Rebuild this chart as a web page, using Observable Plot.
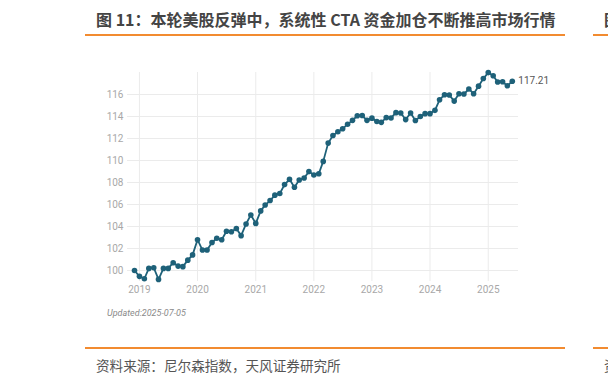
<!DOCTYPE html>
<html><head><meta charset="utf-8">
<script src="https://cdn.jsdelivr.net/npm/d3@7"></script>
<script src="https://cdn.jsdelivr.net/npm/@observablehq/plot@0.6"></script>
<style>
html,body{margin:0;padding:0;background:#fff;}
#wrap{position:relative;width:608px;height:384px;overflow:hidden;font-family:"Noto Sans CJK SC","Noto Sans",sans-serif;}
#chart{position:absolute;left:0;top:0;}
.title{position:absolute;top:8px;font-size:16px;font-weight:bold;color:#444;white-space:nowrap;line-height:22px;}
.rule{position:absolute;height:2px;background:#f28b30;}
.src{position:absolute;top:356px;font-size:13.6px;color:#555;white-space:nowrap;line-height:18px;}
.upd{position:absolute;left:107px;top:307px;font-family:Roboto,sans-serif;font-style:italic;font-size:9px;color:#8a8a8a;line-height:12px;white-space:nowrap;}
</style></head>
<body>
<div id="wrap">
  <div class="title" style="left:96px">图 11：本轮美股反弹中，系统性 CTA 资金加仓不断推高市场行情</div>
  <div class="title" style="left:604px">图</div>
  <div class="rule" style="left:85px;width:480px;top:34px"></div>
  <div class="rule" style="left:593px;width:30px;top:34px"></div>
  <div id="chart"></div>
  <div class="upd">Updated:2025-07-05</div>
  <div class="rule" style="left:85px;width:480px;top:347px"></div>
  <div class="rule" style="left:593px;width:30px;top:347px"></div>
  <div class="src" style="left:96px">资料来源：尼尔森指数，天风证券研究所</div>
  <div class="src" style="left:604px">资</div>
</div>
<script>
const months = [
  "2018-12",
  "2019-01","2019-02","2019-03","2019-04","2019-05","2019-06","2019-07","2019-08","2019-09","2019-10","2019-11","2019-12",
  "2020-01","2020-02","2020-03","2020-04","2020-05","2020-06","2020-07","2020-08","2020-09","2020-10","2020-11","2020-12",
  "2021-01","2021-02","2021-03","2021-04","2021-05","2021-06","2021-07","2021-08","2021-09","2021-10","2021-11","2021-12",
  "2022-01","2022-02","2022-03","2022-04","2022-05","2022-06","2022-07","2022-08","2022-09","2022-10","2022-11","2022-12",
  "2023-01","2023-02","2023-03","2023-04","2023-05","2023-06","2023-07","2023-08","2023-09","2023-10","2023-11","2023-12",
  "2024-01","2024-02","2024-03","2024-04","2024-05","2024-06","2024-07","2024-08","2024-09","2024-10","2024-11","2024-12",
  "2025-01","2025-02","2025-03","2025-04","2025-05","2025-06"
];
const values = [
  100.00,
  99.47, 99.25, 100.19, 100.25, 99.19, 100.19, 100.19, 100.71, 100.40, 100.35, 100.94, 101.42,
  102.80, 101.86, 101.86, 102.55, 102.93, 102.80, 103.57, 103.52, 103.81, 103.17, 104.23, 105.05,
  104.28, 105.42, 105.95, 106.36, 106.85, 107.00, 107.81, 108.29, 107.57, 108.23, 108.41, 108.99,
  108.68, 108.80, 109.92, 111.58, 112.27, 112.62, 112.88, 113.30, 113.65, 114.07, 114.09, 113.65,
  113.85, 113.55, 113.47, 113.90, 113.87, 114.35, 114.32, 113.72, 114.32, 113.63, 114.00, 114.26,
  114.26, 114.56, 115.52, 115.98, 115.95, 115.40, 116.07, 116.04, 116.50, 116.07, 116.76, 117.45,
  117.99, 117.70, 117.13, 117.16, 116.79, 117.21
];
const yTicks = [100, 102, 104, 106, 108, 110, 112, 114, 116];
const xTickYears = ["2019", "2020", "2021", "2022", "2023", "2024", "2025"];
const lastLabel = "117.21";

const data = months.map((m, i) => ({date: new Date(m + "-01T00:00:00Z"), value: values[i]}));
const yearDates = xTickYears.map(y => new Date(y + "-01-01T00:00:00Z"));
const color = "#1e6179";

const chart = Plot.plot({
  width: 608,
  height: 384,
  marginLeft: 127,
  marginRight: 90,
  marginTop: 72,
  marginBottom: 103,
  style: {fontFamily: "Roboto, sans-serif", fontSize: "10px", background: "transparent"},
  x: {type: "utc", domain: [new Date("2018-10-18T00:00:00Z"), new Date("2025-07-10T00:00:00Z")]},
  y: {domain: [99, 118]},
  marks: [
    Plot.gridY(yTicks, {stroke: "#ebebeb", strokeOpacity: 1, strokeWidth: 1}),
    Plot.gridX(yearDates, {stroke: "#ebebeb", strokeOpacity: 1, strokeWidth: 1}),
    Plot.axisY(yTicks, {tickSize: 0, tickPadding: 4, fill: "#a8a8a8", label: null, fontSize: 10}),
    Plot.axisX(yearDates, {tickSize: 0, tickPadding: 4, tickFormat: "%Y", fill: "#a8a8a8", label: null, fontSize: 10}),
    Plot.line(data, {x: "date", y: "value", stroke: color, strokeWidth: 1.8}),
    Plot.dot(data, {x: "date", y: "value", r: 2.8, fill: color, stroke: "none"}),
    Plot.text([data[data.length - 1]], {x: "date", y: "value", text: () => lastLabel, dx: 6, textAnchor: "start", fill: "#555", fontSize: 10})
  ]
});
document.getElementById("chart").appendChild(chart);
</script>
</body></html>
